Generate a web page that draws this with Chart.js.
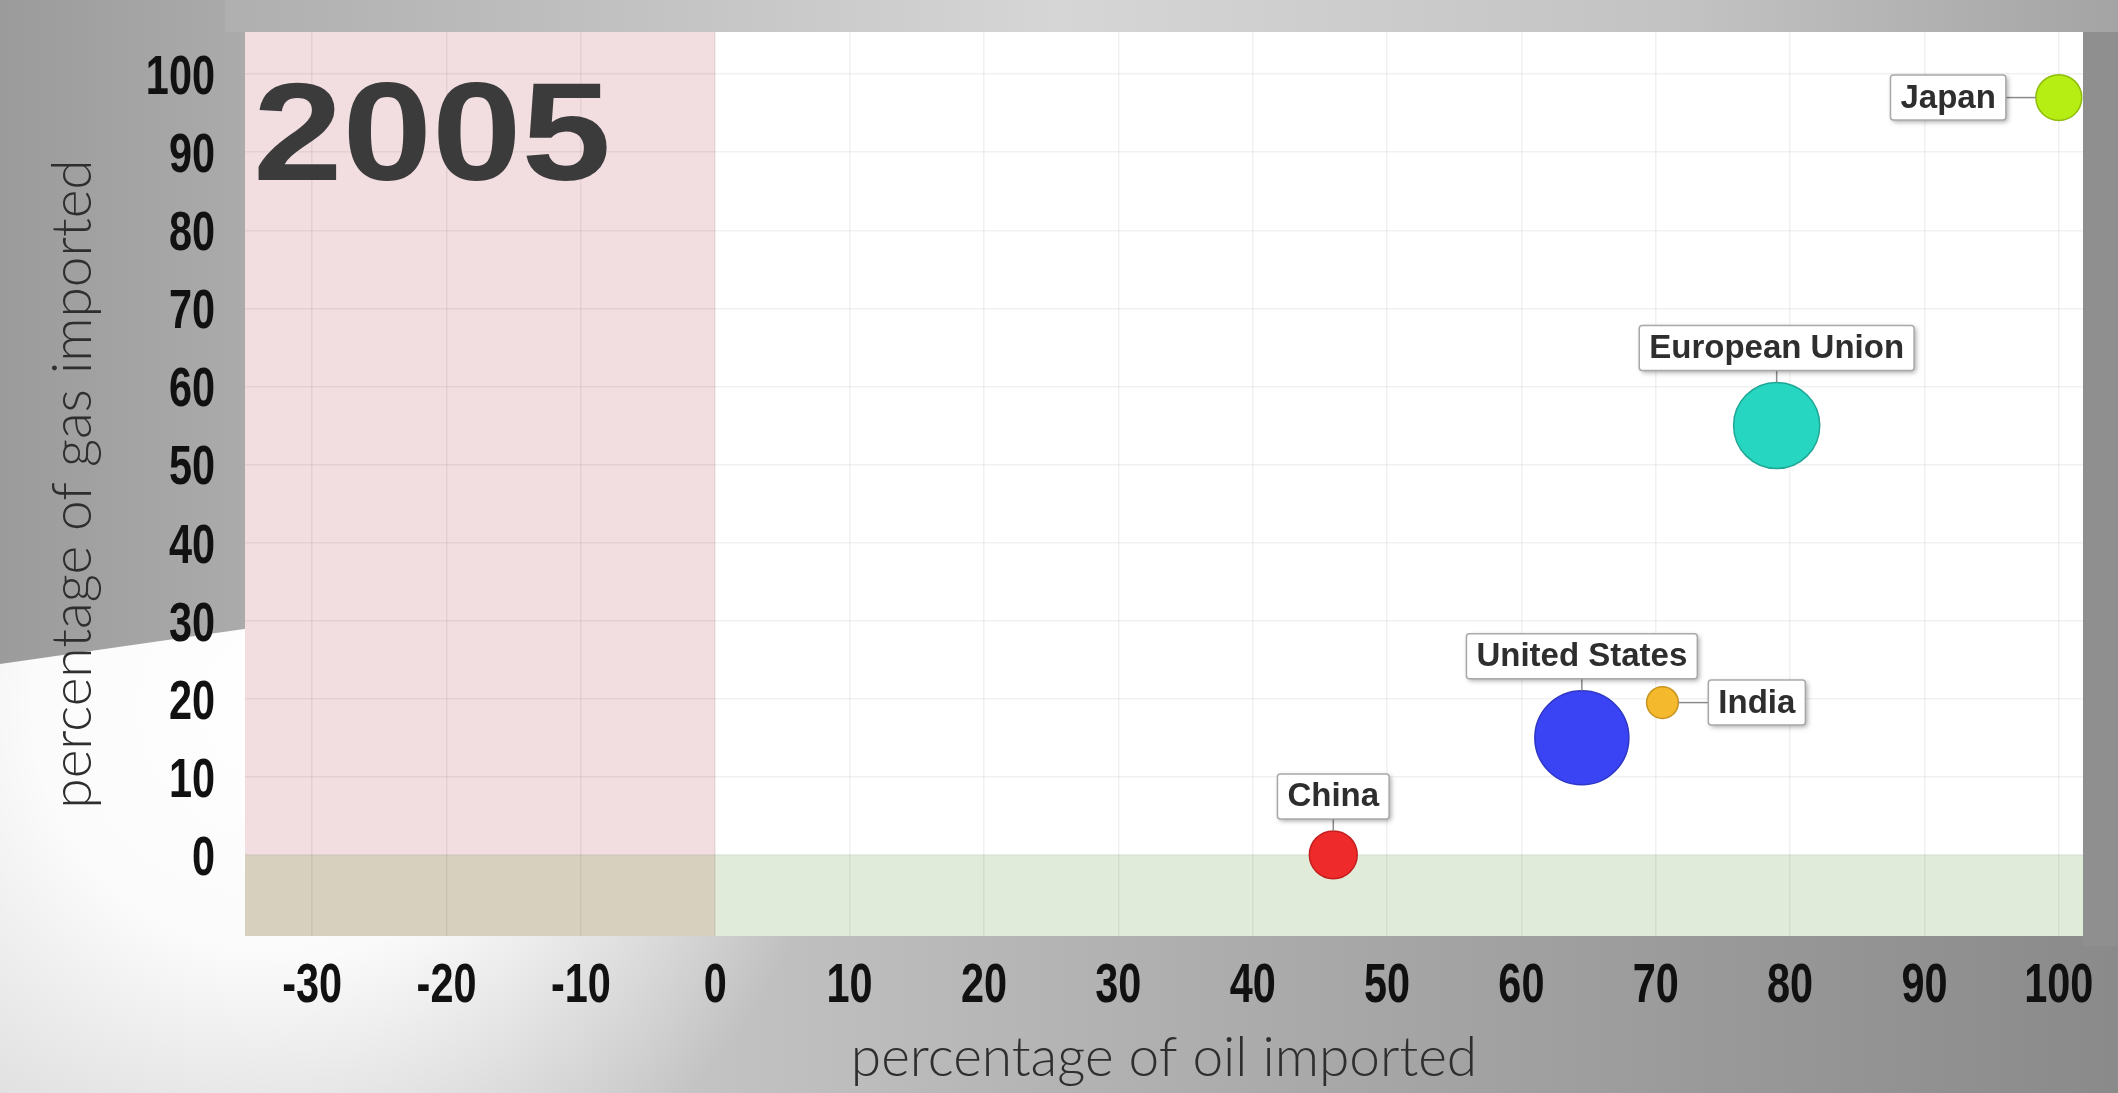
<!DOCTYPE html>
<html><head><meta charset="utf-8">
<script src="https://cdn.jsdelivr.net/npm/chart.js@4.4.1/dist/chart.umd.min.js"></script>
<style>
html,body{margin:0;padding:0;background:#b8b8b8;overflow:hidden;}
#wrap{position:relative;width:2118px;height:1093px;}
canvas{display:block;}
</style></head><body>
<div id="wrap"><canvas id="c" width="2118" height="1093"></canvas></div>
<script>
// ---- data ----
const countries   = ['China', 'United States', 'India', 'European Union', 'Japan'];
const oilImported = [46, 64.5, 70.5, 79, 100];    // % of oil imported (x)
const gasImported = [0, 15, 19.5, 55, 97];        // % of gas imported (y)
const bubbleSize  = [5.0, 19.3, 2.2, 16.2, 4.6];  // relative bubble magnitude
const xTickValues = [-30, -20, -10, 0, 10, 20, 30, 40, 50, 60, 70, 80, 90, 100];
const yTickValues = [0, 10, 20, 30, 40, 50, 60, 70, 80, 90, 100];
const yearLabel   = '2005';
const xTitle      = 'percentage of oil imported';
const yTitle      = 'percentage of gas imported';

// ---- style ----
const bubbleColors  = ['#ee2a2a', '#3a44f5', '#f5b92d', '#27d6c1', '#b6ee14'];
const bubbleBorders = ['#c41f1f', '#2e36c4', '#c8941f', '#1ea796', '#8fbd0e'];
const labelSide = { 'China': 'top', 'United States': 'top', 'India': 'right', 'European Union': 'top', 'Japan': 'left' };
const radiusOf = v => 10.7 * Math.sqrt(v);
const tickFont = "bold 56px 'Liberation Sans', Arial, sans-serif";
const tickSqueeze = 0.74;

const bgPlugin = {
  id: 'bg',
  beforeDraw(chart) {
    const { ctx, chartArea: a, scales: { x, y } } = chart;
    const W = chart.width, H = chart.height;
    ctx.save();
    // floor
    let g = ctx.createLinearGradient(0, 0, W, 0);
    g.addColorStop(0, '#d8d8d8'); g.addColorStop(0.3, '#c6c6c6');
    g.addColorStop(0.65, '#a6a6a6'); g.addColorStop(1, '#8a8a8a');
    ctx.fillStyle = g; ctx.fillRect(0, 0, W, H);
    // bright lower-left
    let rg = ctx.createRadialGradient(a.left + 40, a.bottom - 230, 0, a.left + 40, a.bottom - 230, 560);
    rg.addColorStop(0, 'rgba(255,255,255,1)'); rg.addColorStop(0.45, 'rgba(255,255,255,0.9)');
    rg.addColorStop(1, 'rgba(255,255,255,0)');
    ctx.fillStyle = rg; ctx.fillRect(0, 0, W, H);
    // left wall
    let wg = ctx.createLinearGradient(0, 0, a.left, 0);
    wg.addColorStop(0, '#9b9b9b'); wg.addColorStop(1, '#ababab');
    ctx.fillStyle = wg;
    ctx.beginPath(); ctx.moveTo(0, 0); ctx.lineTo(a.left + 20, 0); ctx.lineTo(a.left + 20, 626);
    ctx.lineTo(0, 664); ctx.closePath(); ctx.fill();
    // top band
    let tg = ctx.createLinearGradient(0, 0, W, 0);
    tg.addColorStop(0, '#a6a6a6'); tg.addColorStop(0.15, '#b3b3b3'); tg.addColorStop(0.5, '#d6d6d6');
    tg.addColorStop(0.8, '#c2c2c2'); tg.addColorStop(1, '#a4a4a4');
    ctx.fillStyle = tg; ctx.fillRect(a.left - 20, 0, W - a.left + 20, a.top);
    // right strip
    ctx.fillStyle = '#8f8f8f'; ctx.fillRect(a.right, a.top, W - a.right, a.bottom - a.top + 10);
    // plot regions
    const x0 = x.getPixelForValue(0), y0 = y.getPixelForValue(0);
    ctx.fillStyle = '#ffffff'; ctx.fillRect(a.left, a.top, a.width, a.height);
    ctx.fillStyle = '#f2dde0'; ctx.fillRect(a.left, a.top, x0 - a.left, a.height);
    ctx.fillStyle = '#e0ebda'; ctx.fillRect(a.left, y0, a.width, a.bottom - y0);
    ctx.fillStyle = '#d7d0bf'; ctx.fillRect(a.left, y0, x0 - a.left, a.bottom - y0);
    ctx.restore();
  },
  beforeDatasetsDraw(chart) {
    const { ctx, chartArea: a } = chart;
    ctx.save();
    ctx.font = "bold 140px 'Liberation Sans', Arial, sans-serif";
    ctx.fillStyle = '#3b3b3b';
    ctx.textBaseline = 'alphabetic';
    ctx.translate(a.left + 8, a.top + 148);
    ctx.scale(1.15, 1);
    ctx.fillText(yearLabel, 0, 0);
    ctx.restore();
  },
  afterDraw(chart) {
    // condensed tick labels, placed through the chart's own scales
    const { ctx, chartArea: a, scales: { x, y } } = chart;
    ctx.save();
    ctx.font = tickFont; ctx.fillStyle = '#111111'; ctx.textBaseline = 'alphabetic';
    x.ticks.forEach(t => {
      const px = x.getPixelForValue(t.value);
      ctx.save(); ctx.translate(px, a.bottom + 66); ctx.scale(tickSqueeze, 1);
      ctx.textAlign = 'center'; ctx.fillText(String(t.value), 0, 0); ctx.restore();
    });
    y.ticks.forEach(t => {
      const py = y.getPixelForValue(t.value);
      ctx.save(); ctx.translate(a.left - 30, py + 20); ctx.scale(tickSqueeze, 1);
      ctx.textAlign = 'right'; ctx.fillText(String(t.value), 0, 0); ctx.restore();
    });
    ctx.restore();
  }
};

const labelPlugin = {
  id: 'bubbleLabels',
  afterDatasetsDraw(chart) {
    const { ctx } = chart;
    const meta = chart.getDatasetMeta(0);
    ctx.save();
    ctx.font = "bold 33px 'Liberation Sans', Arial, sans-serif";
    meta.data.forEach((pt, i) => {
      const name = countries[i];
      const cx = pt.x, cy = pt.y, r = pt.options.radius;
      const tw = ctx.measureText(name).width;
      const bw = tw + 20, bh = 45;
      const side = labelSide[name];
      let bx, by, l1, l2;
      if (side === 'top') {
        bx = cx - bw / 2; by = cy - r - 12 - bh;
        l1 = [cx, cy - r]; l2 = [cx, by + bh];
      } else if (side === 'left') {
        bx = cx - r - 30 - bw; by = cy - bh / 2;
        l1 = [cx - r, cy]; l2 = [bx + bw, cy];
      } else {
        bx = cx + r + 30; by = cy - bh / 2;
        l1 = [cx + r, cy]; l2 = [bx, cy];
      }
      ctx.strokeStyle = '#8a8a8a'; ctx.lineWidth = 1.5;
      ctx.beginPath(); ctx.moveTo(l1[0], l1[1]); ctx.lineTo(l2[0], l2[1]); ctx.stroke();
      ctx.save();
      ctx.shadowColor = 'rgba(0,0,0,0.35)'; ctx.shadowBlur = 5; ctx.shadowOffsetX = 2; ctx.shadowOffsetY = 2;
      ctx.fillStyle = '#ffffff';
      ctx.beginPath(); ctx.roundRect(bx, by, bw, bh, 3); ctx.fill();
      ctx.restore();
      ctx.strokeStyle = '#a9a9a9'; ctx.lineWidth = 1.5;
      ctx.beginPath(); ctx.roundRect(bx, by, bw, bh, 3); ctx.stroke();
      ctx.fillStyle = '#2e2e2e'; ctx.textAlign = 'center'; ctx.textBaseline = 'middle';
      ctx.fillText(name, bx + bw / 2, by + bh / 2 + 1);
    });
    ctx.restore();
  }
};

const points = countries.map((c, i) => ({ x: oilImported[i], y: gasImported[i], r: radiusOf(bubbleSize[i]) }));

new Chart(document.getElementById('c'), {
  type: 'bubble',
  data: {
    datasets: [{
      label: 'countries',
      data: points,
      backgroundColor: bubbleColors,
      borderColor: bubbleBorders,
      borderWidth: 1.5,
      clip: false
    }]
  },
  plugins: [bgPlugin, labelPlugin],
  options: {
    responsive: false,
    devicePixelRatio: 1,
    animation: false,
    events: [],
    layout: { autoPadding: false, padding: { top: 32, right: 35, left: 0, bottom: 0 } },
    plugins: { legend: { display: false }, tooltip: { enabled: false } },
    scales: {
      x: {
        type: 'linear', min: -35, max: 101.8,
        afterBuildTicks: s => { s.ticks = xTickValues.map(v => ({ value: v })); },
        afterFit: s => { s.height = 157; },
        grid: { color: 'rgba(0,0,0,0.055)', lineWidth: 1.5, drawTicks: false },
        border: { display: false },
        ticks: { display: false },
        title: {
          display: true, text: xTitle, color: '#2e2e2e',
          font: { family: "Lato, 'Open Sans', sans-serif", size: 55, weight: 300, lineHeight: 1.2 },
          padding: { top: 0, bottom: 2 }
        }
      },
      y: {
        type: 'linear', min: -10.4, max: 105.4,
        afterBuildTicks: s => { s.ticks = yTickValues.map(v => ({ value: v })); },
        afterFit: s => { s.width = 245; },
        grid: { color: 'rgba(0,0,0,0.055)', lineWidth: 1.5, drawTicks: false },
        border: { display: false },
        ticks: { display: false },
        title: {
          display: true, text: yTitle, color: '#2e2e2e',
          font: { family: "Lato, 'Open Sans', sans-serif", size: 55, weight: 300, lineHeight: 1.2 },
          padding: { top: 40, bottom: 0 }
        }
      }
    }
  }
});
</script>
</body></html>
